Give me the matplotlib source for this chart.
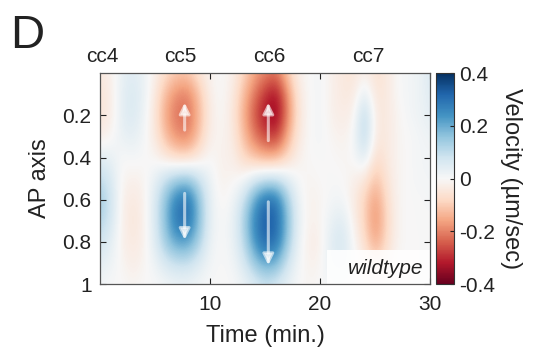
import numpy as np
import matplotlib
matplotlib.use('Agg')
import matplotlib.pyplot as plt
from matplotlib.patches import Rectangle

plt.rcParams['font.family'] = ['Liberation Sans', 'DejaVu Sans']

# time (min) of each column and AP position of each row
time_min = list(range(0, 31))
ap_pos = [0.0, 0.1, 0.2, 0.3, 0.4, 0.5, 0.6, 0.7, 0.8, 0.9, 1.0]

# velocity (um/sec), one list per time point, rows from AP 0 to AP 1
vel_cols = [
    [-0.04, -0.05, -0.05, -0.03, 0.04, 0.10, 0.14, 0.12, 0.08, 0.04, 0.01],   # 0
    [-0.02, -0.03, -0.03, -0.01, 0.03, 0.06, 0.08, 0.07, 0.04, 0.02, 0.00],   # 1
    [0.03, 0.04, 0.04, 0.03, 0.00, -0.01, -0.02, -0.02, -0.02, -0.01, 0.00],  # 2
    [0.05, 0.06, 0.06, 0.04, 0.01, -0.02, -0.04, -0.05, -0.04, -0.03, -0.01], # 3
    [0.02, 0.03, 0.02, 0.01, 0.00, -0.01, -0.02, -0.02, -0.02, -0.01, 0.00],  # 4
    [-0.02, -0.04, -0.05, -0.04, -0.01, 0.03, 0.06, 0.06, 0.05, 0.02, 0.00],  # 5
    [-0.07, -0.13, -0.16, -0.13, -0.05, 0.09, 0.17, 0.18, 0.15, 0.07, 0.01],  # 6
    [-0.10, -0.19, -0.22, -0.19, -0.08, 0.13, 0.28, 0.30, 0.22, 0.09, 0.02],  # 7
    [-0.10, -0.20, -0.22, -0.20, -0.08, 0.14, 0.30, 0.30, 0.22, 0.09, 0.02],  # 8
    [-0.05, -0.11, -0.13, -0.11, -0.04, 0.08, 0.16, 0.17, 0.13, 0.05, 0.01],  # 9
    [-0.01, -0.02, -0.03, -0.02, 0.00, 0.02, 0.03, 0.03, 0.02, 0.01, 0.00],   # 10
    [0.00, 0.00, 0.00, -0.01, -0.02, -0.02, -0.01, 0.00, 0.00, 0.00, 0.00],   # 11
    [-0.02, -0.03, -0.04, -0.03, -0.02, -0.01, 0.01, 0.02, 0.02, 0.01, 0.00], # 12
    [-0.08, -0.12, -0.14, -0.12, -0.08, 0.00, 0.08, 0.12, 0.10, 0.06, 0.02],  # 13
    [-0.15, -0.21, -0.25, -0.21, -0.12, 0.05, 0.21, 0.26, 0.24, 0.15, 0.05],  # 14
    [-0.19, -0.29, -0.33, -0.27, -0.15, 0.08, 0.30, 0.34, 0.32, 0.21, 0.08],  # 15
    [-0.21, -0.33, -0.36, -0.29, -0.14, 0.08, 0.29, 0.32, 0.30, 0.19, 0.06],  # 16
    [-0.10, -0.18, -0.20, -0.15, -0.08, 0.04, 0.14, 0.17, 0.15, 0.08, 0.03],  # 17
    [-0.02, -0.04, -0.05, -0.04, -0.02, 0.00, 0.02, 0.03, 0.02, 0.01, 0.00],  # 18
    [0.00, 0.00, 0.00, 0.00, 0.00, -0.01, -0.02, -0.02, -0.03, -0.02, -0.01], # 19
    [0.01, 0.01, 0.01, 0.01, 0.00, 0.00, -0.01, -0.01, -0.02, -0.01, 0.00],   # 20
    [-0.02, -0.02, -0.02, -0.01, 0.00, 0.00, 0.01, 0.03, 0.05, 0.04, 0.01],   # 21
    [-0.04, -0.04, -0.03, -0.02, -0.01, 0.00, 0.01, 0.05, 0.07, 0.05, 0.01],  # 22
    [-0.05, -0.04, -0.02, 0.00, 0.00, -0.02, -0.03, -0.02, 0.00, 0.01, 0.00], # 23
    [-0.02, 0.04, 0.12, 0.12, 0.06, -0.04, -0.09, -0.09, -0.07, -0.03, -0.01],# 24
    [-0.06, -0.05, -0.04, -0.04, -0.07, -0.12, -0.17, -0.19, -0.16, -0.08, -0.02], # 25
    [-0.04, -0.04, -0.04, -0.04, -0.04, -0.05, -0.07, -0.08, -0.07, -0.04, -0.01], # 26
    [0.00, 0.00, -0.01, -0.01, -0.01, -0.01, -0.01, -0.01, -0.01, 0.00, 0.00],# 27
    [0.01, 0.01, 0.01, 0.00, 0.00, 0.00, 0.00, 0.00, 0.00, 0.00, 0.00],       # 28
    [0.02, 0.02, 0.02, 0.01, 0.01, 0.01, 0.00, 0.00, 0.00, 0.00, 0.00],       # 29
    [0.06, 0.05, 0.04, 0.02, 0.01, 0.01, 0.01, 0.00, 0.00, 0.00, 0.00],       # 30
]

cycle_names = ['cc4', 'cc5', 'cc6', 'cc7']
cycle_times = [0.2, 7.3, 15.4, 24.4]

# flow arrows: (time, AP start, AP end)
arrows = [(7.7, 0.27, 0.14), (7.7, 0.57, 0.79),
          (15.3, 0.32, 0.14), (15.3, 0.61, 0.91)]

V = np.array(vel_cols).T
dt = time_min[1] - time_min[0]
dy = ap_pos[1] - ap_pos[0]

fig = plt.figure(figsize=(5.37, 3.53), dpi=100)
ax = fig.add_axes([0.186, 0.195, 0.615, 0.598])
cax = fig.add_axes([0.812, 0.195, 0.033, 0.598])

im = ax.imshow(V, cmap='RdBu', vmin=-0.4, vmax=0.4, aspect='auto',
               interpolation='bicubic',
               extent=(time_min[0] - dt / 2, time_min[-1] + dt / 2,
                       ap_pos[-1] + dy / 2, ap_pos[0] - dy / 2))
ax.set_xlim(0, 30)
ax.set_ylim(1, 0)

for t, a0, a1 in arrows:
    ax.annotate('', xy=(t, a1), xytext=(t, a0),
                arrowprops=dict(arrowstyle='-|>', color='white', alpha=0.6,
                                lw=2.2, mutation_scale=16, shrinkA=0, shrinkB=0))

ax.add_patch(Rectangle((20.6, 0.84), 9.4, 0.16, facecolor='white', alpha=0.88,
                       edgecolor='none'))
ax.text(29.4, 0.925, 'wildtype', style='italic', fontsize=15,
        ha='right', va='center', color='#222222')

ax.set_xticks([10, 20, 30])
ax.set_yticks([0.2, 0.4, 0.6, 0.8, 1])
ax.set_yticklabels(['0.2', '0.4', '0.6', '0.8', '1'])
ax.tick_params(direction='in', top=True, right=True, length=4, width=0.8,
               labelsize=15, colors='#222222', pad=6)
ax.tick_params(axis='x', pad=8)
for s in ax.spines.values():
    s.set_color('#555555')
    s.set_linewidth(0.9)
ax.set_xlabel('Time (min.)', fontsize=17, color='#222222', labelpad=8)
ax.set_ylabel('AP axis', fontsize=17, color='#222222', labelpad=8)

for name, t in zip(cycle_names, cycle_times):
    ax.text(t, -0.035, name, fontsize=15, ha='center', va='bottom',
            color='#222222')

cb = fig.colorbar(im, cax=cax)
cb.set_ticks([0.4, 0.2, 0, -0.2, -0.4])
cb.set_ticklabels(['0.4', '0.2', '0', '-0.2', '-0.4'])
cb.ax.tick_params(direction='in', length=3, labelsize=15, colors='#222222')
cb.outline.set_edgecolor('#333333')
cb.set_label('Velocity (µm/sec)', rotation=270, fontsize=17, color='#222222',
             labelpad=20)

fig.text(0.018, 0.96, 'D', fontsize=34, ha='left', va='top', color='#222222')

fig.savefig('out.png', dpi=100)
